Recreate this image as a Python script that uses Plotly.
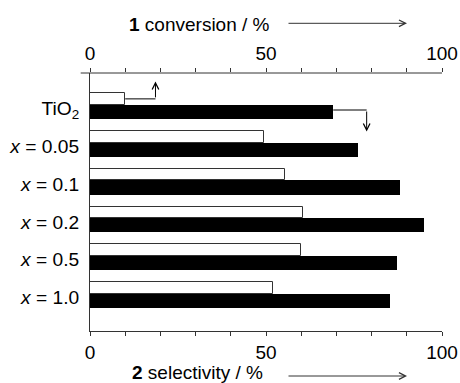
import plotly.graph_objects as go

# ---- data ----
categories = ["TiO<sub>2</sub>", "<i>x</i> = 0.05", "<i>x</i> = 0.1",
              "<i>x</i> = 0.2", "<i>x</i> = 0.5", "<i>x</i> = 1.0"]
conversion = [10.0, 49.4, 55.4, 60.4, 59.8, 52.0]     # compound 1, top axis (white bars)
selectivity = [69.1, 76.2, 88.1, 95.0, 87.1, 85.1]    # compound 2, bottom axis (black bars)
tick_values = [0, 10, 20, 30, 40, 50, 60, 70, 80, 90, 100]
tick_labels = ["0", "", "", "", "", "50", "", "", "", "", "100"]

# ---- layout geometry (pixels) ----
W, H = 460, 383
L, R, T, B = 90, 18, 73, 52
pw, ph = W - L - R, H - T - B


def px(xp):
    return (xp - L) / pw


def py(yp):
    return (H - B - yp) / ph


FONT = "Liberation Sans, Arial, Helvetica, sans-serif"
AX = "#333333"
FS = 19
FS_CAT = 19.2

n = len(categories)
idx = list(range(n))
white_pos = [i - 0.19 for i in idx]
black_pos = [i + 0.154 for i in idx]

fig = go.Figure()
fig.add_trace(go.Bar(
    x=conversion, y=white_pos, orientation="h", width=0.31,
    marker=dict(color="white", line=dict(color=AX, width=1)),
    xaxis="x2", yaxis="y", showlegend=False, hoverinfo="x"))
fig.add_trace(go.Bar(
    x=selectivity, y=black_pos, orientation="h", width=0.376,
    marker=dict(color="black", line=dict(width=0)),
    xaxis="x", yaxis="y", showlegend=False, hoverinfo="x"))

axis_common = dict(
    range=[0, 100], tickmode="array", tickvals=tick_values, ticktext=tick_labels,
    ticks="outside", ticklen=4, tickwidth=1, tickcolor=AX,
    showgrid=False, zeroline=False, automargin=False,
    tickfont=dict(family=FONT, size=FS, color="black"),
)

fig.update_layout(
    width=W, height=H,
    margin=dict(l=L, r=R, t=T, b=B, pad=0, autoexpand=False),
    paper_bgcolor="white", plot_bgcolor="white",
    barmode="overlay",
    bargap=0,
    xaxis=dict(**axis_common, side="bottom", showline=True, linecolor=AX, linewidth=1),
    xaxis2=dict(**axis_common, side="top", overlaying="x", showline=False),
    yaxis=dict(range=[5.946, -0.874], tickmode="array",
               tickvals=[i + 0.06 for i in idx], ticktext=categories,
               ticks="", showgrid=False, zeroline=False, automargin=False,
               showline=True, linecolor=AX, linewidth=1,
               ticklabelstandoff=6,
               tickfont=dict(family=FONT, size=FS_CAT, color="black")),
    font=dict(family=FONT, color="black"),
)

shapes = []
# top axis line extends slightly left of 0
shapes.append(dict(type="line", xref="paper", yref="paper", x0=px(80.7), x1=1,
                   y0=1, y1=1, line=dict(color=AX, width=1)))

# connectors from TiO2 bars to their axes
c_off = 8.6
x_c1 = conversion[0] + c_off
shapes.append(dict(type="line", xref="x", yref="y", x0=conversion[0], x1=x_c1,
                   y0=white_pos[0], y1=white_pos[0], line=dict(color="black", width=1)))
x_c2 = selectivity[0] + 9.5
y_c2 = black_pos[0] - 0.05
shapes.append(dict(type="line", xref="x", yref="y", x0=selectivity[0], x1=x_c2,
                   y0=y_c2, y1=y_c2, line=dict(color="black", width=1)))
fig.update_layout(shapes=shapes)

annotations = [
    dict(text="<b>1</b> conversion / %", xref="paper", yref="paper",
         x=px(126.5), y=py(25), xanchor="left", yanchor="middle", showarrow=False,
         font=dict(family=FONT, size=FS, color="black")),
    dict(text="<b>2</b> selectivity / %", xref="paper", yref="paper",
         x=px(129.5), y=py(372.5), xanchor="left", yanchor="middle", showarrow=False,
         font=dict(family=FONT, size=FS, color="black")),
    dict(text="", xref="paper", yref="paper", x=px(407), y=py(23.3),
         ax=-120, ay=0, axref="pixel", ayref="pixel", showarrow=True,
         arrowhead=5, arrowsize=1.3, arrowwidth=1, arrowcolor=AX),
    dict(text="", xref="paper", yref="paper", x=px(407), y=py(376),
         ax=-120, ay=0, axref="pixel", ayref="pixel", showarrow=True,
         arrowhead=5, arrowsize=1.3, arrowwidth=1, arrowcolor=AX),
    # vertical connector arrows
    dict(text="", xref="x", yref="y", x=x_c1, y=-0.652,
         ax=x_c1, ay=white_pos[0], axref="x", ayref="y", showarrow=True,
         arrowhead=5, arrowsize=1.3, arrowwidth=1, arrowcolor="black"),
    dict(text="", xref="x", yref="y", x=x_c2, y=0.673,
         ax=x_c2, ay=y_c2, axref="x", ayref="y", showarrow=True,
         arrowhead=5, arrowsize=1.3, arrowwidth=1, arrowcolor="black"),
]
fig.update_layout(annotations=annotations)

fig.write_html("out.html", config={"displayModeBar": False},
               post_script="document.body.style.margin='0';")
